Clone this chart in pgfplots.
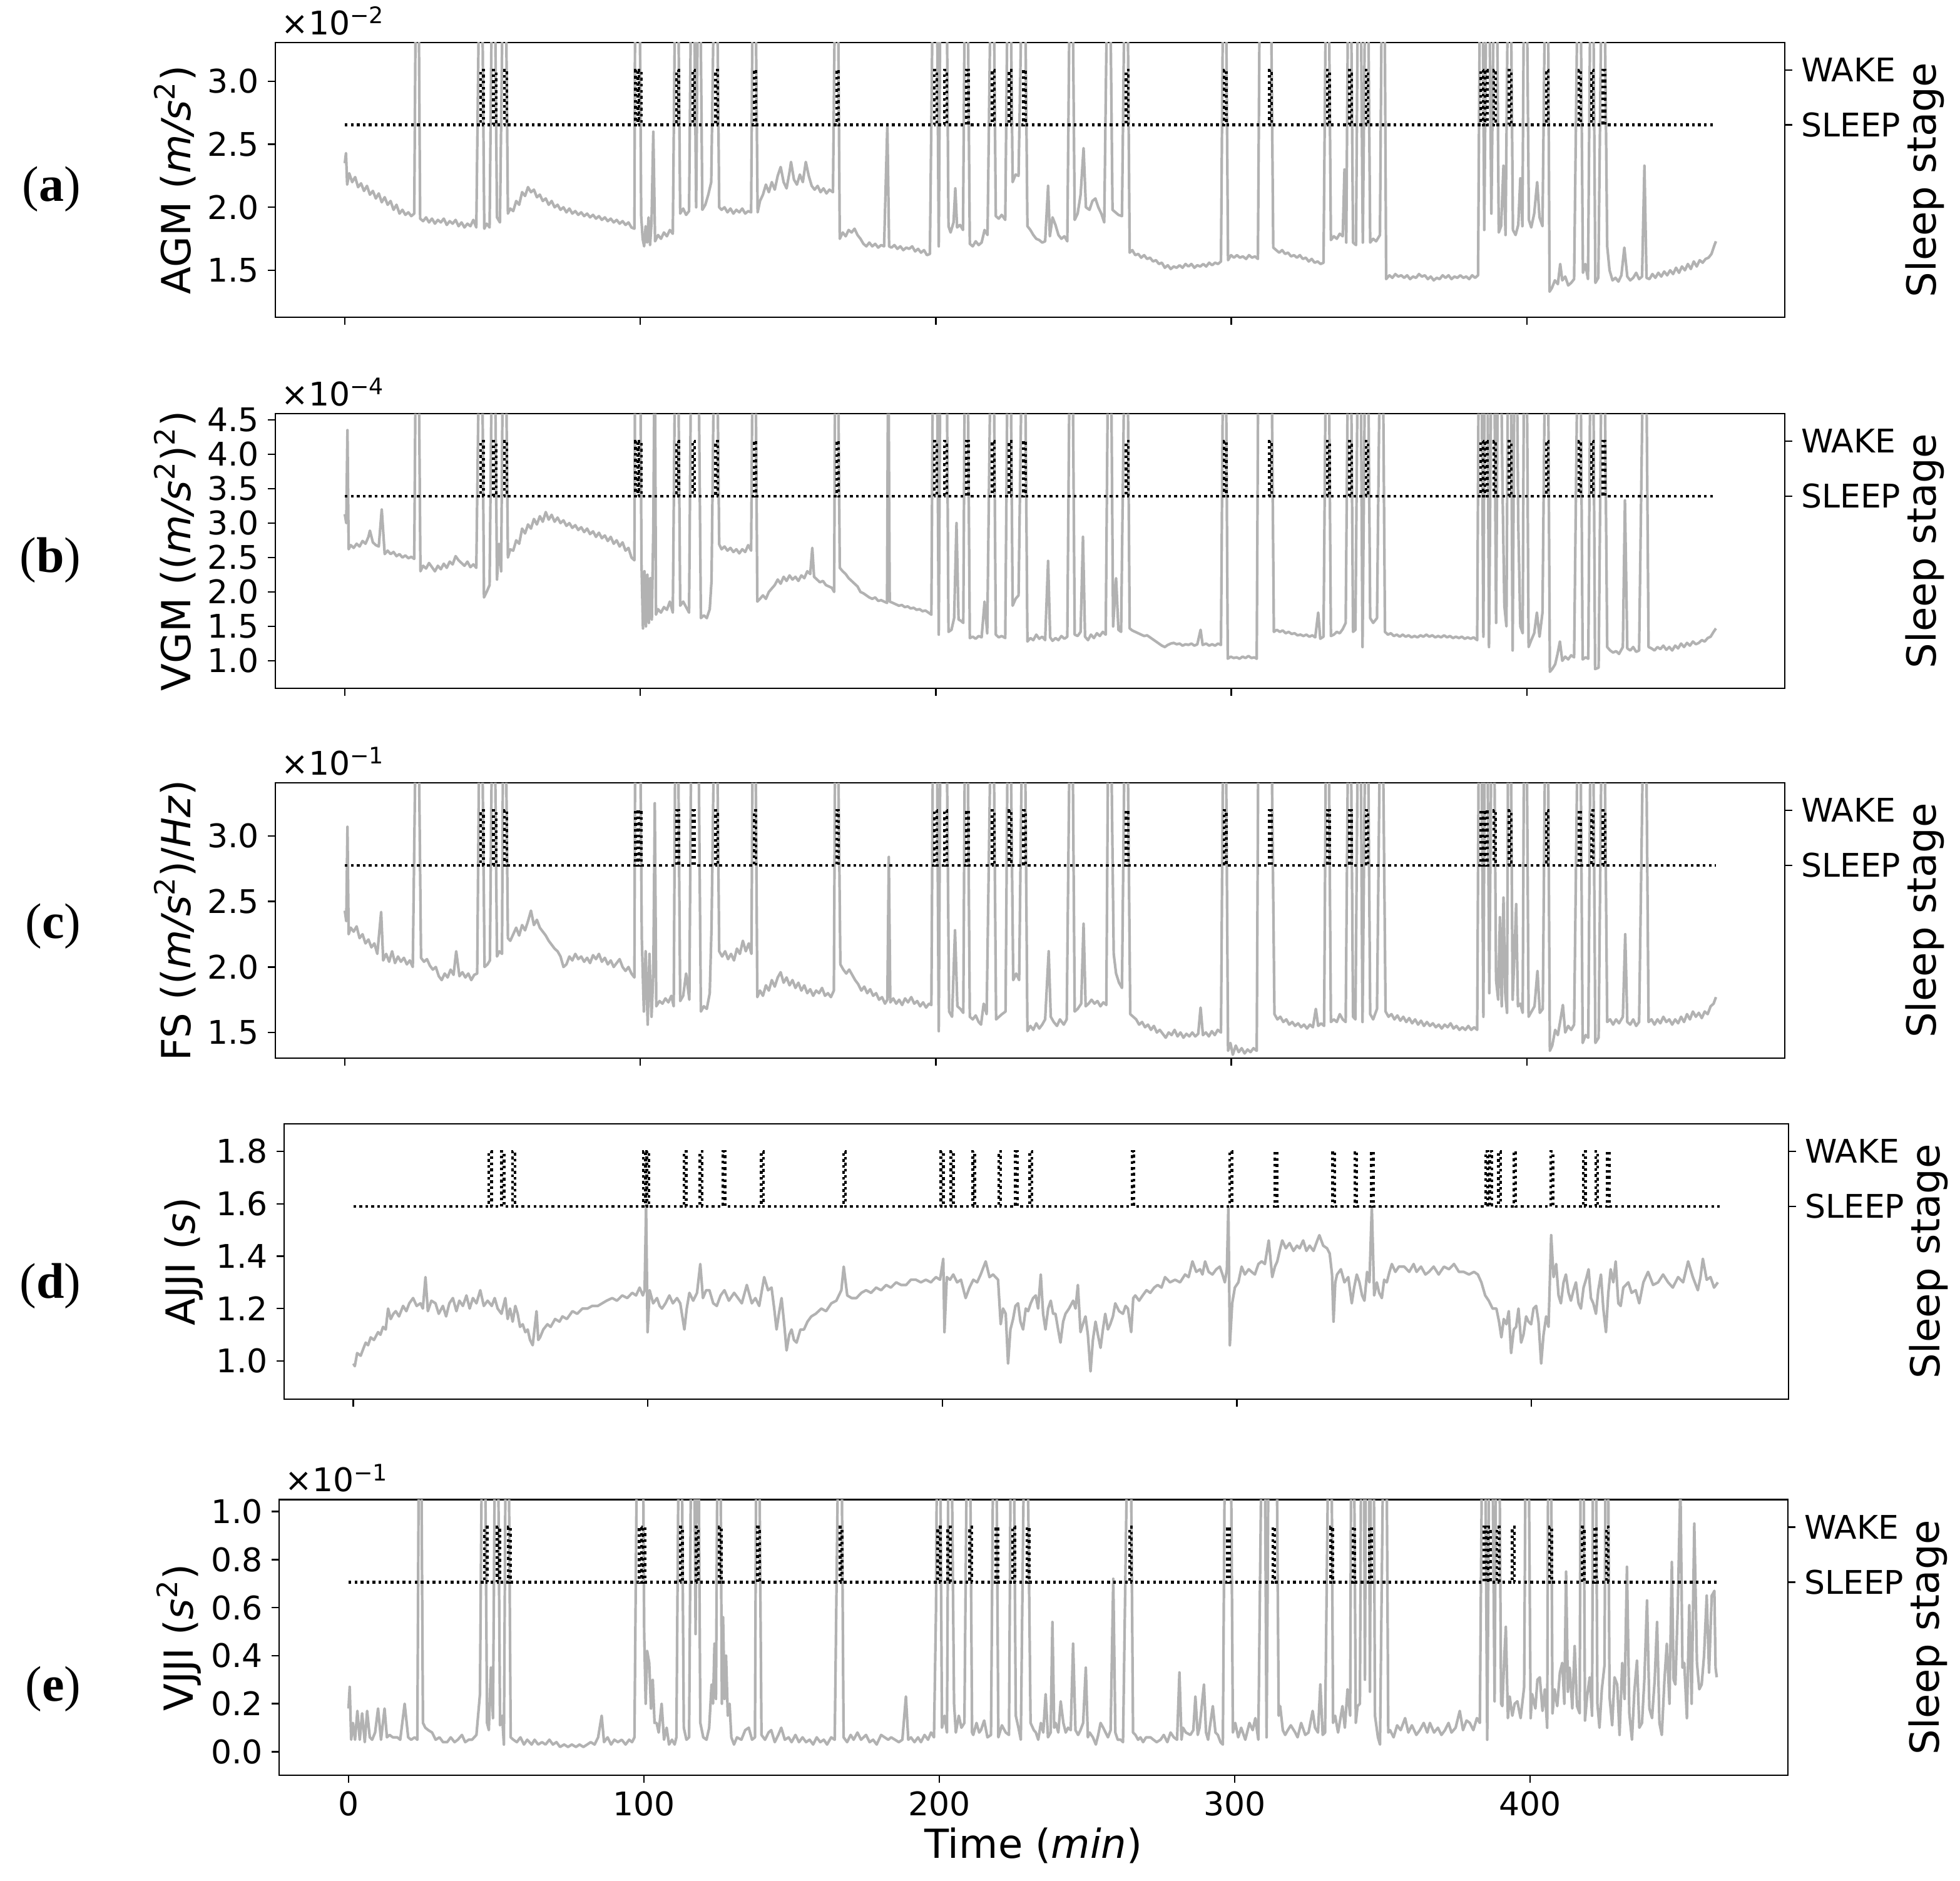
\documentclass[border=0pt]{standalone}
\usepackage{pgfplots}
\pgfplotsset{compat=1.18}
\usepackage{pgfplotstable}
\usepackage{fontspec}
\setmainfont{DejaVu Sans}
\newfontfamily\serifletter{Liberation Serif}
\definecolor{trace}{RGB}{178,178,178}

\pgfplotstableread[row sep=\\]{t s\\
0 0\\
46 0\\46 1\\46.9 1\\46.9 0\\
50.3 0\\50.3 1\\51.2 1\\51.2 0\\
54 0\\54 1\\54.9 1\\54.9 0\\
98.4 0\\98.4 1\\99.2 1\\99.2 0\\
99.6 0\\99.6 1\\100.4 1\\100.4 0\\
112.3 0\\112.3 1\\113 1\\113 0\\
117.7 0\\117.7 1\\118.4 1\\118.4 0\\
125.5 0\\125.5 1\\126.2 1\\126.2 0\\
138.5 0\\138.5 1\\139.2 1\\139.2 0\\
166.4 0\\166.4 1\\167.1 1\\167.1 0\\
199.5 0\\199.5 1\\200.3 1\\200.3 0\\
202.9 0\\202.9 1\\203.7 1\\203.7 0\\
210.3 0\\210.3 1\\211 1\\211 0\\
219.1 0\\219.1 1\\219.8 1\\219.8 0\\
224.8 0\\224.8 1\\225.5 1\\225.5 0\\
229.7 0\\229.7 1\\230.4 1\\230.4 0\\
264.4 0\\264.4 1\\265.1 1\\265.1 0\\
297.5 0\\297.5 1\\298.3 1\\298.3 0\\
312.9 0\\312.9 1\\313.6 1\\313.6 0\\
332.5 0\\332.5 1\\333.2 1\\333.2 0\\
340 0\\340 1\\340.7 1\\340.7 0\\
345.6 0\\345.6 1\\346.3 1\\346.3 0\\
384.4 0\\384.4 1\\385.2 1\\385.2 0\\
385.8 0\\385.8 1\\386.6 1\\386.6 0\\
388.8 0\\388.8 1\\389.5 1\\389.5 0\\
394 0\\394 1\\394.7 1\\394.7 0\\
406.6 0\\406.6 1\\407.3 1\\407.3 0\\
417.6 0\\417.6 1\\418.3 1\\418.3 0\\
421.8 0\\421.8 1\\422.5 1\\422.5 0\\
425.8 0\\425.8 1\\426.5 1\\426.5 0\\
464 0\\
}\stagetab

\pgfplotstableread[row sep=\\]{t v\\
0 2.35\\0.4 2.43\\0.8 2.18\\1.5 2.27\\2.5 2.2\\3.5 2.24\\4.5 2.16\\5.5 2.19\\6.5 2.13\\7.5 2.17\\8.5 2.1\\9.5 2.13\\
10.5 2.07\\11.5 2.11\\12.5 2.04\\13.5 2.08\\14.5 2.02\\15.5 2.05\\16.5 1.98\\17.5 2.02\\18.5 1.95\\19.5 1.98\\20.5 1.94\\
21.5 1.96\\22.5 1.93\\23.5 1.95\\24.1 4\\24.9 4\\25.5 1.91\\26.5 1.89\\27.5 1.92\\28.5 1.88\\29.5 1.91\\30.5 1.87\\31.5 1.9\\
32.5 1.88\\33.5 1.91\\34.5 1.86\\35.5 1.89\\36.5 1.87\\37.5 1.9\\38.5 1.85\\39.5 1.88\\40.5 1.84\\41.5 1.87\\42.5 1.85\\
43.5 1.9\\44.5 1.84\\45.6 4\\46.4 4\\47.2 1.83\\48 1.87\\49 1.84\\49.9 4\\50.7 4\\51.5 1.92\\52.5 1.88\\53.6 4\\54.4 4\\
55.2 1.95\\56 1.99\\57 1.97\\58 2.05\\59 2.02\\60 2.12\\61 2.09\\62 2.16\\63 2.12\\64 2.14\\65 2.08\\66 2.1\\67 2.05\\
68 2.07\\69 2.02\\70 2.05\\71 2.0\\72 2.02\\73 1.98\\74 2.0\\75 1.96\\76 1.99\\77 1.95\\78 1.97\\79 1.94\\80 1.96\\
81 1.93\\82 1.95\\83 1.92\\84 1.94\\85 1.91\\86 1.93\\87 1.9\\88 1.92\\89 1.89\\90 1.91\\91 1.88\\92 1.9\\93 1.87\\
94 1.89\\95 1.86\\96 1.88\\97 1.84\\98 1.83\\98.3 4\\99.7 4\\100.3 1.93\\100.8 1.75\\101.3 1.69\\101.8 1.85\\
102.3 1.72\\102.8 1.92\\103.3 1.7\\103.8 1.88\\104.4 2.6\\105 1.73\\106 1.78\\107 1.75\\108 1.8\\109 1.77\\110 1.82\\
111 1.79\\111.9 4\\112.7 4\\113.5 1.95\\114.5 1.99\\115.5 1.94\\116.5 1.97\\117.3 4\\118.1 4\\118.9 2.0\\119.6 4\\
120.2 4\\121 1.98\\122 2.02\\123 2.1\\124 2.2\\125.1 4\\125.9 4\\126.7 2.0\\127.5 1.98\\128.5 2.0\\129.5 1.96\\
130.5 1.99\\131.5 1.95\\132.5 1.98\\133.5 1.96\\134.5 1.99\\135.5 1.95\\136.5 1.97\\137.5 1.96\\138.1 4\\138.9 4\\
139.7 1.96\\140.5 2.05\\141.5 2.1\\142.5 2.18\\143.5 2.12\\144.5 2.2\\145.5 2.14\\146.5 2.25\\147.5 2.32\\148.5 2.2\\
149.5 2.15\\150.5 2.28\\151 2.36\\152 2.22\\153 2.18\\154 2.26\\155 2.2\\156 2.36\\157 2.25\\158 2.17\\159 2.14\\
160 2.17\\161 2.12\\162 2.15\\163 2.11\\164 2.14\\165.2 2.12\\166 4\\166.8 4\\167.5 1.75\\168.5 1.8\\169.5 1.77\\
170.5 1.82\\171.5 1.8\\172.5 1.83\\173.5 1.78\\174.5 1.75\\175.5 1.71\\176.5 1.69\\177.5 1.72\\178.5 1.69\\179.5 1.71\\
180.5 1.68\\181.5 1.7\\182.5 1.69\\183.6 2.66\\184.2 1.69\\185 1.68\\186 1.7\\187 1.67\\188 1.69\\189 1.66\\190 1.68\\
191 1.67\\192 1.69\\193 1.65\\194 1.67\\195 1.64\\196 1.66\\197 1.62\\198 1.63\\199.1 4\\200.3 4\\201 1.69\\201.6 4\\
203.6 4\\204.3 1.85\\205 1.8\\206 1.88\\206.6 2.15\\207.2 1.84\\208.2 1.86\\209.2 1.82\\209.9 4\\210.7 4\\211.5 1.71\\
212.5 1.69\\213.5 1.73\\214.5 1.7\\215.5 1.72\\216.5 1.82\\217.5 1.78\\218.7 4\\219.5 4\\220.3 1.93\\221.3 1.91\\
222.3 1.94\\223.5 1.9\\224.4 4\\225.2 4\\226 2.2\\227 2.26\\228 2.25\\229.3 4\\230.1 4\\231 1.85\\232 1.82\\233 1.78\\
234 1.75\\235 1.74\\236 1.72\\237 1.73\\238 2.17\\238.6 1.77\\239.5 1.92\\240.5 1.86\\241.5 1.78\\242.5 1.75\\
243.5 1.77\\244.5 1.73\\245.4 4\\246.2 4\\247 1.9\\248 1.95\\249 2.1\\250 2.47\\250.8 2.0\\252 1.98\\253 2.05\\
254 2.07\\255 2.0\\256 1.95\\257 1.88\\258.1 4\\258.9 4\\259.8 1.98\\260.8 1.96\\261.8 1.94\\263 1.93\\264 4\\264.8 4\\
265.6 1.64\\266.5 1.66\\267.5 1.62\\268.5 1.63\\269.5 1.6\\270.5 1.62\\271.5 1.59\\272.5 1.6\\273.5 1.57\\274.5 1.58\\
275.5 1.55\\276.5 1.56\\277.5 1.52\\278.5 1.54\\279.5 1.51\\280.5 1.53\\281.5 1.52\\282.5 1.54\\283.5 1.52\\
284.5 1.55\\285.5 1.53\\286.5 1.55\\287.5 1.52\\288.5 1.54\\289.5 1.53\\290.5 1.55\\291.5 1.53\\292.5 1.56\\
293.5 1.54\\294.5 1.56\\295.5 1.55\\296.5 1.57\\297.3 4\\298.1 4\\298.9 1.58\\299.9 1.62\\300.9 1.6\\301.9 1.62\\
302.9 1.6\\303.9 1.61\\305 1.59\\306 1.62\\307 1.6\\308 1.61\\309 1.59\\309.7 4\\311 4\\312.5 4\\313.3 4\\314.2 1.68\\
315.2 1.66\\316.2 1.64\\317.2 1.66\\318.2 1.63\\319.2 1.64\\320.2 1.61\\321.2 1.62\\322.2 1.6\\323.2 1.62\\324.2 1.59\\
325.2 1.6\\326.2 1.57\\327.2 1.59\\328.2 1.56\\329.2 1.57\\330.2 1.55\\331.2 1.56\\332.1 4\\332.9 4\\333.7 1.74\\
334.7 1.77\\335.7 1.75\\336.7 1.79\\337.7 1.77\\338.3 2.3\\338.9 1.72\\339.6 4\\340.4 4\\341.2 1.72\\342.2 1.7\\
342.9 4\\343.7 4\\344.5 1.72\\345.4 4\\346.2 4\\347 1.72\\348 1.75\\349 1.73\\350.3 1.78\\351 4\\351.8 4\\352.4 1.43\\
353.5 1.46\\354.5 1.44\\355.5 1.47\\356.5 1.45\\357.5 1.46\\358.5 1.44\\359.5 1.46\\360.5 1.43\\361.5 1.45\\
362.5 1.44\\363.5 1.47\\364.5 1.45\\365.5 1.46\\366.5 1.43\\367.5 1.45\\368.5 1.42\\369.5 1.44\\370.5 1.43\\
371.5 1.46\\372.5 1.44\\373.5 1.46\\374.5 1.43\\375.5 1.45\\376.5 1.44\\377.5 1.46\\378.5 1.44\\379.5 1.45\\
380.5 1.43\\381.5 1.46\\382.5 1.44\\383.5 1.46\\384.2 4\\385 4\\385.6 1.82\\386.4 4\\387.2 4\\388 1.95\\389 4\\
389.8 4\\390.5 1.8\\391.3 1.85\\392.1 2.33\\392.8 1.78\\393.7 4\\394.5 4\\395.3 1.82\\396.2 1.78\\397.1 1.86\\
397.8 2.23\\398.5 1.85\\399.1 4\\399.9 4\\400.7 1.9\\401.5 1.84\\402.5 1.95\\403.5 2.2\\404.3 1.92\\405.3 1.85\\
406.3 4\\407.1 4\\407.7 1.33\\408.5 1.36\\409.5 1.42\\410.5 1.39\\411.3 1.55\\412 1.42\\413 1.45\\414 1.38\\415 1.4\\
416 1.43\\417.3 4\\418.1 4\\419 1.48\\419.8 1.55\\420.7 1.43\\421.6 4\\422.4 4\\423.2 1.4\\424.2 1.44\\425.4 4\\
426.2 4\\427.2 1.69\\428 1.5\\429 1.42\\430 1.44\\431 1.41\\432 1.46\\433 1.68\\434 1.45\\435 1.42\\436 1.44\\
437 1.48\\438 1.43\\439 1.45\\439.8 2.33\\440.5 1.44\\441.5 1.43\\442.5 1.47\\443.5 1.44\\444.5 1.48\\445.5 1.45\\
446.5 1.49\\447.5 1.46\\448.5 1.5\\449.5 1.47\\450.5 1.52\\451.5 1.48\\452.5 1.53\\453.5 1.5\\454.5 1.55\\
455.5 1.51\\456.5 1.57\\457.5 1.53\\458.5 1.58\\459.5 1.56\\460.5 1.59\\461.5 1.6\\462.5 1.63\\463.5 1.7\\464 1.73\\
}\taba

\pgfplotstableread[row sep=\\]{t v\\
0 3.13\\0.5 3.0\\0.9 4.35\\1.3 2.62\\2 2.68\\3 2.64\\4 2.7\\5 2.66\\6 2.74\\7 2.7\\8 2.8\\8.5 2.89\\9.5 2.72\\
10.5 2.68\\11.5 2.66\\12.5 3.2\\13.5 2.55\\14.5 2.6\\15.5 2.55\\16.5 2.58\\17.5 2.52\\18.5 2.55\\19.5 2.5\\20.5 2.53\\
21.5 2.49\\22.5 2.51\\23.5 2.48\\24.1 6\\24.9 6\\25.6 2.3\\26.5 2.38\\27.5 2.34\\28.5 2.42\\29.5 2.36\\30.5 2.3\\
31.5 2.38\\32.5 2.33\\33.5 2.41\\34.5 2.35\\35.5 2.44\\36.5 2.4\\37.5 2.52\\38.5 2.46\\39.5 2.42\\40.5 2.38\\
41.5 2.44\\42.5 2.36\\43.5 2.4\\44.5 2.35\\45.6 6\\46.4 6\\47.1 1.92\\48 2.0\\49 2.1\\49.9 6\\50.7 6\\51.5 2.18\\
52.2 2.7\\52.9 2.3\\53.6 6\\54.4 6\\55.2 2.5\\56 2.62\\57 2.6\\58 2.75\\59 2.7\\60 2.92\\61 2.85\\62 2.98\\63 2.92\\
64 3.06\\65 2.98\\66 3.1\\67 3.02\\68 3.16\\69 3.05\\70 3.12\\71 3.02\\72 3.08\\73 3.0\\74 3.04\\75 2.96\\76 3.0\\
77 2.93\\78 2.97\\79 2.9\\80 2.94\\81 2.87\\82 2.92\\83 2.84\\84 2.88\\85 2.8\\86 2.86\\87 2.78\\88 2.82\\89 2.74\\
90 2.8\\91 2.7\\92 2.75\\93 2.66\\94 2.72\\95 2.6\\96 2.64\\97 2.5\\98 2.46\\98.3 6\\99.9 6\\100.4 2.42\\100.9 1.47\\
101.4 2.3\\101.9 1.5\\102.4 2.25\\102.9 1.55\\103.4 2.2\\103.9 1.6\\104.4 2.9\\104.9 6\\105.3 1.67\\106 1.75\\
107 1.7\\108 1.78\\109 1.74\\110 1.86\\111 1.7\\111.9 6\\112.7 6\\113.5 1.8\\114.5 1.86\\115.5 1.78\\116.5 1.7\\
117.3 6\\118.1 6\\118.8 6\\119.6 6\\120.5 1.62\\121.5 1.66\\122.5 1.62\\123.5 1.75\\124.1 2.16\\125.1 6\\125.9 6\\
126.7 2.69\\127.5 2.62\\128.5 2.66\\129.5 2.6\\130.5 2.64\\131.5 2.58\\132.5 2.62\\133.5 2.56\\134.5 2.62\\
135.5 2.58\\136.5 2.68\\137.5 2.6\\138.1 6\\138.9 6\\139.6 1.86\\140.5 1.9\\141.5 1.95\\142.5 1.9\\143.5 2.0\\
144.5 2.05\\145.5 2.1\\146.5 2.18\\147.5 2.12\\148.5 2.22\\149.5 2.16\\150.5 2.24\\151.5 2.18\\152.5 2.22\\
153.5 2.16\\154.5 2.24\\155.5 2.2\\156.5 2.3\\157.5 2.26\\158.2 2.64\\158.8 2.22\\159.8 2.18\\160.8 2.14\\
161.8 2.16\\162.8 2.1\\163.8 2.08\\164.8 2.06\\165.6 2.0\\166 6\\166.8 6\\167.5 2.35\\168.5 2.3\\169.5 2.26\\
170.5 2.2\\171.5 2.16\\172.5 2.12\\173.5 2.08\\174.5 2.0\\175.5 1.98\\176.5 1.95\\177.5 1.92\\178.5 1.9\\
179.5 1.92\\180.5 1.87\\181.5 1.88\\182.5 1.86\\183.5 1.84\\183.9 6\\184.4 1.86\\185.5 1.84\\186.5 1.82\\
187.5 1.8\\188.5 1.81\\189.5 1.78\\190.5 1.79\\191.5 1.76\\192.5 1.77\\193.5 1.74\\194.5 1.75\\195.5 1.72\\
196.5 1.73\\197.5 1.7\\198.5 1.67\\199.1 6\\200.3 6\\201 1.38\\201.6 6\\203.6 6\\204.3 1.42\\205.3 1.45\\206.2 1.62\\
207 3.0\\207.7 1.6\\208.5 1.58\\209.3 1.55\\209.9 6\\210.7 6\\211.5 1.33\\212.5 1.35\\213.5 1.32\\214.5 1.36\\
215.5 1.34\\216.5 1.86\\217.4 1.4\\218.7 6\\219.5 6\\220.3 1.38\\221.3 1.34\\222.3 1.36\\223.5 1.33\\224.4 6\\
225.2 6\\226 1.8\\227 1.9\\228 1.95\\229.3 6\\230.1 6\\231 1.28\\232 1.33\\233 1.3\\234 1.38\\235 1.32\\236 1.35\\
237 1.3\\238 2.45\\238.7 1.34\\239.5 1.29\\240.5 1.33\\241.5 1.3\\242.5 1.36\\243.5 1.32\\244.5 1.35\\245.4 6\\
246.2 6\\247 1.38\\248 1.36\\249 1.42\\249.8 2.8\\250.5 1.35\\251.5 1.3\\252.5 1.38\\253.5 1.33\\254.5 1.4\\
255.5 1.36\\256.5 1.42\\257.5 1.38\\258.4 6\\259.2 6\\260 1.5\\261 2.2\\261.8 1.45\\262.7 1.42\\264 6\\264.8 6\\
265.6 1.47\\266.5 1.44\\267.5 1.42\\268.5 1.4\\269.5 1.38\\270.5 1.36\\271.5 1.37\\272.5 1.34\\273.5 1.31\\
274.5 1.28\\275.5 1.25\\276.5 1.22\\277.5 1.2\\278.5 1.23\\279.5 1.25\\280.5 1.26\\281.5 1.24\\282.5 1.25\\
283.5 1.22\\284.5 1.24\\285.5 1.23\\286.5 1.25\\287.5 1.22\\288.5 1.24\\289.6 1.45\\290.3 1.23\\291.5 1.25\\
292.5 1.22\\293.5 1.24\\294.5 1.22\\295.5 1.25\\296.5 1.23\\297.3 6\\298.1 6\\298.8 1.03\\299.8 1.06\\300.8 1.04\\
301.8 1.05\\302.8 1.03\\303.8 1.06\\304.8 1.04\\305.8 1.07\\306.8 1.04\\307.8 1.05\\308.6 1.03\\309.2 6\\310 6\\
311.2 6\\312 6\\312.7 6\\313.5 6\\314.4 1.42\\315.4 1.45\\316.4 1.42\\317.4 1.44\\318.4 1.4\\319.4 1.42\\320.4 1.39\\
321.4 1.4\\322.4 1.37\\323.4 1.38\\324.4 1.36\\325.4 1.38\\326.4 1.35\\327.4 1.37\\328.4 1.34\\329.4 1.7\\
330.1 1.32\\331.2 1.35\\332.1 6\\332.9 6\\333.7 1.36\\334.7 1.38\\335.7 1.42\\336.7 1.4\\337.7 1.46\\338.7 1.55\\
339.6 6\\340.4 6\\341.2 1.42\\342 1.45\\342.9 6\\343.7 6\\344.4 1.2\\345.4 6\\346.2 6\\347 1.62\\348 1.55\\
349.3 1.62\\350.4 6\\351.2 6\\352 1.42\\353 1.38\\354 1.4\\355 1.36\\356 1.38\\357 1.35\\358 1.38\\359 1.35\\
360 1.37\\361 1.34\\362 1.36\\363 1.34\\364 1.37\\365 1.35\\366 1.38\\367 1.35\\368 1.37\\369 1.34\\370 1.36\\
371 1.34\\372 1.37\\373 1.34\\374 1.36\\375 1.33\\376 1.35\\377 1.33\\378 1.35\\379 1.32\\380 1.34\\381 1.32\\
382 1.34\\383.2 1.3\\383.8 6\\384.6 6\\385.3 1.35\\385.8 6\\386.6 6\\387.2 1.2\\388.1 6\\388.9 6\\389.6 1.55\\
390.3 6\\391.1 6\\391.8 3.43\\392.4 1.8\\393.1 1.5\\393.7 6\\394.5 6\\395.2 1.15\\395.9 6\\396.5 6\\397.1 2.99\\
397.8 1.5\\398.6 1.4\\399.1 6\\399.9 6\\400.6 1.2\\401.5 1.3\\402.5 1.4\\403.4 1.7\\404.3 1.35\\405.3 1.7\\406.3 6\\
407.1 6\\407.8 0.84\\408.6 0.88\\409.6 0.95\\410.4 1.1\\411.2 1.28\\412 1.0\\413 1.06\\414 1.02\\415 1.08\\
416 1.05\\417.3 6\\418.1 6\\418.9 1.02\\419.9 1.05\\420.8 1.03\\421.6 6\\422.4 6\\423.1 0.88\\424.3 0.9\\425.4 6\\
426.2 6\\427.2 1.2\\428.2 1.15\\429.2 1.12\\430.2 1.14\\431.2 1.1\\432.5 1.2\\433.2 3.33\\434 1.18\\435 1.15\\
436 1.2\\437 1.13\\438 1.15\\439.5 6\\440.3 6\\441.2 1.2\\442.2 1.18\\443.2 1.15\\444.2 1.2\\445.2 1.17\\446.2 1.22\\
447.2 1.16\\448.2 1.2\\449.2 1.15\\450.2 1.22\\451.2 1.18\\452.2 1.25\\453.2 1.2\\454.2 1.26\\455.2 1.22\\
456.2 1.28\\457.2 1.24\\458.2 1.26\\459.2 1.3\\460.2 1.28\\461.2 1.33\\462.2 1.35\\463.2 1.42\\464 1.47\\
}\tabb

\pgfplotstableread[row sep=\\]{t v\\
0 2.43\\0.5 2.35\\0.9 3.07\\1.3 2.25\\2 2.3\\3 2.27\\4 2.31\\5 2.22\\6 2.25\\7 2.18\\8 2.21\\9 2.15\\10 2.18\\
11 2.1\\12.3 2.42\\13 2.05\\14 2.1\\15 2.04\\16 2.12\\17 2.03\\18 2.08\\19 2.04\\20 2.07\\21 2.02\\22 2.05\\23 2.0\\
24.1 4\\24.9 4\\25.8 2.07\\26.8 2.04\\27.8 2.06\\28.8 2.01\\29.8 1.98\\30.8 2.0\\31.8 1.93\\32.8 1.9\\33.8 1.95\\
34.8 1.92\\35.8 1.98\\36.8 1.94\\37.7 2.12\\38.8 1.93\\39.8 1.96\\40.8 1.92\\41.8 1.95\\42.8 1.9\\43.8 1.94\\
44.8 1.95\\45.6 4\\46.4 4\\47.3 2.0\\48.3 2.02\\49.1 2.05\\49.9 4\\50.7 4\\51.5 2.08\\52.3 2.12\\53.2 2.1\\53.6 4\\
54.4 4\\55.2 2.22\\56 2.2\\57 2.25\\58 2.3\\59 2.24\\60 2.32\\61 2.28\\62 2.35\\63 2.43\\64 2.32\\65 2.36\\66 2.3\\
67 2.27\\68 2.24\\69 2.2\\70 2.17\\71 2.14\\72 2.12\\73 2.08\\74 2.0\\75 2.02\\76 2.08\\77 2.05\\78 2.1\\79 2.06\\
80 2.08\\81 2.04\\82 2.07\\83 2.03\\84 2.09\\85 2.06\\86 2.1\\87 2.04\\88 2.07\\89 2.02\\90 2.05\\91 2.0\\92 2.03\\
93 2.06\\94 2.0\\95 1.97\\96 2.0\\97 1.95\\98 1.92\\98.3 4\\99.9 4\\100.5 2.22\\101.2 1.66\\101.8 2.12\\102.5 1.56\\
103.1 2.1\\103.8 1.62\\104.4 1.95\\104.9 3.25\\105.4 1.7\\106.5 1.74\\107.5 1.72\\108.5 1.76\\109.5 1.73\\
110.5 1.78\\111.3 1.7\\111.9 4\\112.7 4\\113.5 1.74\\114.5 1.78\\115.5 1.95\\116.6 1.75\\117.3 4\\118.1 4\\
118.8 4\\119.6 4\\120.5 1.66\\121.5 1.7\\122.5 1.68\\123.5 1.8\\124.1 2.3\\125.1 4\\125.9 4\\126.7 2.12\\127.7 2.08\\
128.7 2.12\\129.7 2.06\\130.7 2.1\\131.7 2.05\\132.7 2.14\\133.7 2.1\\134.7 2.2\\135.7 2.12\\136.7 2.18\\
137.6 2.1\\138.1 4\\138.9 4\\139.6 1.77\\140.5 1.82\\141.5 1.78\\142.5 1.86\\143.5 1.82\\144.5 1.9\\145.5 1.85\\
146.5 1.92\\147.5 1.96\\148.5 1.88\\149.5 1.92\\150.5 1.86\\151.5 1.9\\152.5 1.84\\153.5 1.88\\154.5 1.82\\
155.5 1.86\\156.5 1.8\\157.5 1.83\\158.5 1.78\\159.5 1.82\\160.5 1.8\\161.5 1.84\\162.5 1.78\\163.5 1.8\\
164.5 1.77\\165.5 1.82\\166 4\\166.8 4\\167.7 2.02\\168.7 1.98\\169.7 1.95\\170.7 1.98\\171.7 1.94\\172.7 1.9\\
173.7 1.87\\174.8 1.82\\175.8 1.85\\176.8 1.8\\177.8 1.83\\178.8 1.78\\179.8 1.8\\180.8 1.75\\181.8 1.77\\
182.8 1.72\\183.6 1.75\\184.1 2.84\\184.6 1.73\\185.6 1.76\\186.6 1.72\\187.6 1.75\\188.6 1.71\\189.6 1.76\\
190.6 1.73\\191.7 1.77\\192.7 1.72\\193.7 1.74\\194.7 1.7\\195.7 1.73\\196.7 1.69\\197.7 1.72\\198.5 1.71\\
199.1 4\\200.3 4\\201 1.51\\201.6 4\\203.6 4\\204.5 1.66\\205.5 1.62\\206.5 2.28\\207.3 1.7\\208.3 1.68\\
209.3 1.65\\209.9 4\\210.7 4\\211.5 1.62\\212.5 1.6\\213.5 1.63\\214.5 1.58\\215.3 1.56\\216.2 1.72\\217.2 1.64\\
218.7 4\\219.5 4\\220.4 1.6\\221.4 1.62\\222.4 1.64\\223.6 1.66\\224.4 4\\225.2 4\\226.2 1.9\\227.2 1.95\\
228.2 1.9\\229.3 4\\230.1 4\\231 1.51\\232 1.55\\233 1.52\\234 1.57\\235 1.53\\236 1.56\\237 1.6\\238.2 2.12\\
238.9 1.62\\239.9 1.58\\241 1.55\\242 1.6\\243.3 1.56\\244.3 1.6\\245.4 4\\246.2 4\\247 1.66\\248 1.68\\249.2 1.72\\
250 2.33\\250.7 1.7\\251.7 1.72\\252.7 1.75\\253.7 1.72\\254.7 1.74\\255.7 1.7\\256.7 1.73\\257.7 1.71\\258.4 4\\
259.2 4\\260.2 2.1\\261 1.95\\262 1.88\\263 1.84\\264 4\\264.8 4\\265.8 1.64\\266.8 1.62\\267.8 1.6\\268.8 1.56\\
269.8 1.58\\270.8 1.54\\271.8 1.56\\272.8 1.52\\273.8 1.55\\274.8 1.5\\275.8 1.52\\276.8 1.49\\277.8 1.46\\
278.8 1.5\\279.8 1.48\\280.8 1.52\\281.8 1.47\\282.8 1.5\\283.8 1.46\\284.8 1.49\\285.8 1.47\\286.8 1.5\\
287.8 1.47\\288.8 1.49\\289.6 1.69\\290.4 1.48\\291.4 1.5\\292.4 1.47\\293.4 1.51\\294.4 1.48\\295.4 1.52\\
296.5 1.5\\297.3 4\\298.1 4\\298.9 1.36\\299.7 1.42\\300.5 1.33\\301.5 1.4\\302.5 1.35\\303.5 1.38\\304.5 1.34\\
305.5 1.37\\306.5 1.35\\307.5 1.38\\308.6 1.36\\309.2 4\\310 4\\311.2 4\\312 4\\312.7 4\\313.5 4\\314.6 1.64\\
315.6 1.6\\316.6 1.62\\317.6 1.58\\318.6 1.6\\319.6 1.56\\320.6 1.58\\321.6 1.55\\322.6 1.57\\323.6 1.54\\
324.6 1.56\\325.6 1.53\\326.6 1.56\\327.6 1.54\\328.6 1.68\\329.4 1.55\\330.4 1.57\\331.4 1.55\\332.1 4\\332.9 4\\
333.7 1.58\\334.7 1.6\\335.7 1.58\\336.7 1.64\\337.7 1.6\\338.7 1.58\\339.6 4\\340.4 4\\341.2 1.62\\342 1.6\\
342.9 4\\343.7 4\\344.4 1.58\\345.4 4\\346.2 4\\347 1.64\\348 1.6\\349.3 1.68\\350.4 4\\351.2 4\\352.2 1.66\\
353.2 1.62\\354.2 1.64\\355.2 1.6\\356.2 1.63\\357.2 1.59\\358.2 1.62\\359.2 1.58\\360.2 1.61\\361.2 1.57\\
362.2 1.6\\363.2 1.56\\364.2 1.59\\365.2 1.55\\366.2 1.58\\367.2 1.55\\368.2 1.57\\369.2 1.54\\370.2 1.56\\
371.2 1.53\\372.2 1.56\\373.2 1.54\\374.2 1.57\\375.2 1.53\\376.2 1.55\\377.2 1.52\\378.2 1.54\\379.2 1.52\\
380.2 1.55\\381.2 1.52\\382.2 1.54\\383.2 1.52\\383.8 4\\384.6 4\\385.3 1.62\\385.8 4\\386.6 4\\387.3 1.8\\
388.1 4\\388.9 4\\389.6 1.9\\390.3 1.75\\390.9 2.38\\391.5 1.7\\392.1 2.53\\392.7 1.8\\393.3 1.65\\393.7 4\\
394.5 4\\395.2 1.75\\395.8 2.1\\396.4 2.48\\397 1.7\\397.8 1.72\\398.6 1.65\\399.1 4\\399.9 4\\400.6 1.62\\
401.6 1.66\\402.6 1.7\\403.6 1.97\\404.4 1.65\\405.4 1.68\\406.3 4\\407.1 4\\407.8 1.36\\408.6 1.4\\409.6 1.52\\
410.5 1.48\\411.4 1.6\\412.2 1.71\\413 1.5\\414 1.55\\415 1.52\\416 1.56\\417.3 4\\418.1 4\\418.9 1.42\\
419.9 1.48\\420.8 1.46\\421.6 4\\422.4 4\\423.2 1.42\\424.3 1.46\\425.4 4\\426.2 4\\427.2 1.58\\428.2 1.6\\
429.2 1.56\\430.2 1.6\\431.2 1.57\\432.5 1.62\\433.3 2.25\\434 1.58\\435 1.56\\436 1.6\\437 1.55\\438 1.58\\
439.5 4\\440.3 4\\441.2 1.58\\442.2 1.6\\443.2 1.56\\444.2 1.6\\445.2 1.57\\446.2 1.62\\447.2 1.58\\448.2 1.6\\
449.2 1.56\\450.2 1.6\\451.2 1.57\\452.2 1.62\\453.2 1.58\\454.2 1.64\\455.2 1.6\\456.2 1.66\\457.2 1.62\\
458.2 1.65\\459.2 1.61\\460.2 1.66\\461.2 1.64\\462.2 1.7\\463.2 1.72\\464 1.77\\
}\tabc

\pgfplotstableread[row sep=\\]{t v\\
0 0.99\\0.5 0.98\\1.3 1.03\\2.5 1.02\\3.5 1.05\\4.2 1.07\\5 1.06\\5.9 1.09\\7 1.08\\8.4 1.11\\9.2 1.1\\10.1 1.13\\
11 1.12\\11.8 1.2\\12.7 1.16\\13.6 1.18\\14.4 1.19\\15.5 1.17\\16.9 1.21\\18 1.19\\19 1.22\\20.3 1.24\\21.5 1.21\\
22.8 1.22\\23.6 1.2\\24.5 1.32\\25.3 1.19\\26.5 1.23\\27.9 1.22\\29 1.18\\30.4 1.21\\31.5 1.17\\32.6 1.22\\
33.8 1.24\\35 1.19\\36 1.23\\37.2 1.21\\38.4 1.25\\39.5 1.2\\40.6 1.24\\41.8 1.22\\43.1 1.27\\44.3 1.21\\45.6 1.23\\
47 1.21\\48 1.24\\49 1.2\\50.3 1.18\\51.6 1.24\\52.4 1.16\\53.2 1.2\\54.1 1.15\\55 1.21\\55.8 1.18\\56.6 1.13\\
57.5 1.14\\58.4 1.11\\59.2 1.12\\60 1.08\\60.9 1.06\\61.5 1.12\\62.2 1.19\\62.8 1.08\\63.4 1.09\\64.5 1.12\\
65.9 1.14\\67 1.13\\68.5 1.16\\70 1.15\\71 1.17\\72.5 1.16\\74.4 1.19\\76 1.18\\77.8 1.2\\79.5 1.2\\81.1 1.21\\
83 1.21\\84.5 1.22\\86 1.23\\87.9 1.24\\89.5 1.23\\91.3 1.25\\93 1.24\\94.7 1.26\\96 1.25\\97.2 1.28\\98.3 1.25\\
98.9 1.27\\99.4 1.59\\99.9 1.11\\100.6 1.27\\101.8 1.22\\103.1 1.24\\104 1.21\\104.8 1.2\\106 1.22\\107.3 1.25\\
108.5 1.22\\109.9 1.24\\111 1.22\\112.4 1.12\\113.2 1.2\\114.1 1.26\\115.4 1.23\\116.7 1.26\\117.8 1.37\\
118.7 1.24\\119.8 1.27\\120.9 1.27\\122.2 1.22\\123.4 1.21\\124.7 1.25\\126 1.27\\127.5 1.23\\129.3 1.26\\
130.6 1.24\\131.9 1.22\\133.6 1.29\\135.3 1.22\\136.5 1.24\\137.8 1.21\\139.5 1.32\\140.8 1.27\\142 1.28\\
142.9 1.2\\143.7 1.12\\144.5 1.18\\145.4 1.24\\146.3 1.14\\147.1 1.04\\148 1.1\\148.8 1.12\\149.6 1.08\\
150.5 1.07\\151.8 1.12\\153 1.12\\154.2 1.15\\155.5 1.17\\157 1.18\\158.9 1.2\\160.5 1.19\\162.3 1.22\\164 1.23\\
165.7 1.27\\166.5 1.36\\167.7 1.25\\169.2 1.24\\170.8 1.24\\172.5 1.26\\174.1 1.27\\175.8 1.26\\177.5 1.28\\
179.2 1.27\\180.9 1.29\\182.5 1.28\\184.3 1.3\\186 1.29\\187.7 1.29\\189.3 1.31\\191 1.31\\192.7 1.3\\194.4 1.31\\
196.1 1.3\\197.8 1.32\\199.2 1.31\\200.3 1.39\\200.7 1.11\\201.5 1.32\\202.6 1.31\\203.7 1.33\\205 1.3\\
206.3 1.31\\207.9 1.24\\209.2 1.28\\210.5 1.31\\211.8 1.3\\213 1.33\\214.7 1.38\\216 1.32\\217.2 1.33\\218.9 1.31\\
219.8 1.14\\220.6 1.2\\221.5 1.18\\222.3 0.99\\223.1 1.12\\224 1.16\\224.8 1.21\\225.7 1.22\\226.5 1.15\\
227.4 1.12\\228.3 1.2\\229.1 1.19\\230 1.22\\230.8 1.24\\231.7 1.25\\232.5 1.2\\233.4 1.33\\234.2 1.18\\235 1.12\\
235.9 1.2\\236.8 1.23\\237.6 1.18\\238.4 1.18\\239.3 1.12\\240.1 1.07\\241 1.15\\241.8 1.18\\243 1.2\\244.4 1.23\\
245.2 1.2\\246 1.29\\246.9 1.11\\247.7 1.14\\248.6 1.17\\249.4 1.1\\250.3 0.96\\251.1 1.08\\252 1.15\\252.8 1.1\\
253.7 1.05\\254.5 1.12\\255.3 1.18\\256.2 1.12\\257 1.14\\257.9 1.17\\258.7 1.22\\260 1.19\\261.3 1.18\\
262.2 1.21\\263 1.2\\264.1 1.11\\264.8 1.24\\265.5 1.25\\266.8 1.23\\268 1.25\\269.3 1.27\\270.6 1.26\\271.9 1.28\\
273.1 1.29\\274.4 1.28\\275.6 1.32\\277.3 1.3\\279 1.31\\280.7 1.3\\282.4 1.33\\283.6 1.32\\284.9 1.38\\286.2 1.34\\
287.5 1.35\\288.3 1.33\\289.2 1.38\\290.4 1.34\\291.7 1.33\\293 1.35\\294.2 1.36\\295.1 1.33\\295.9 1.3\\
296.6 1.35\\297.1 1.59\\297.6 1.06\\298.4 1.22\\299.3 1.28\\300.5 1.3\\301.6 1.36\\302.7 1.33\\304 1.35\\305 1.34\\
306.1 1.33\\307.3 1.37\\308.4 1.38\\309.5 1.37\\310.8 1.46\\312 1.32\\312.9 1.36\\313.7 1.38\\314.5 1.42\\
315.4 1.46\\316.6 1.43\\317.9 1.45\\319.2 1.42\\320.4 1.44\\321.3 1.43\\322.5 1.46\\323.6 1.42\\324.7 1.44\\
326 1.42\\327.3 1.46\\328 1.48\\329.3 1.44\\330.6 1.43\\331.5 1.41\\332.3 1.33\\332.8 1.15\\333.4 1.3\\334 1.33\\
335.3 1.35\\336.5 1.3\\337.8 1.32\\339 1.22\\339.8 1.28\\340.7 1.33\\341.6 1.3\\342.5 1.25\\343.3 1.23\\344.2 1.34\\
345 1.3\\345.8 1.59\\346.6 1.25\\347.5 1.3\\348.3 1.26\\349.2 1.24\\350 1.31\\350.9 1.3\\351.8 1.34\\352.6 1.37\\
353.8 1.34\\355 1.36\\356.8 1.36\\358.5 1.34\\360 1.37\\361 1.34\\362.5 1.36\\364 1.33\\365.2 1.34\\366.8 1.36\\
368.5 1.33\\370.3 1.36\\372 1.35\\373.7 1.37\\375.4 1.34\\377 1.34\\378.8 1.33\\380.5 1.34\\381.8 1.33\\383 1.3\\
384.3 1.25\\385.5 1.23\\386.8 1.2\\388.1 1.2\\389 1.15\\389.8 1.09\\390.6 1.16\\391.5 1.14\\392.3 1.19\\393.1 1.03\\
394 1.12\\394.8 1.13\\395.6 1.2\\396.5 1.07\\397.3 1.1\\398.2 1.17\\399 1.15\\399.9 1.14\\400.7 1.2\\401.6 1.21\\
402.4 1.15\\403.3 0.99\\404.1 1.1\\405 1.17\\405.8 1.13\\406.7 1.48\\407.5 1.32\\408.4 1.37\\409.2 1.25\\410 1.22\\
410.9 1.3\\411.7 1.33\\412.6 1.26\\413.4 1.23\\414.3 1.27\\415.1 1.3\\416 1.22\\416.8 1.2\\417.7 1.28\\418.5 1.31\\
419.4 1.35\\420.2 1.24\\421 1.22\\421.9 1.18\\422.7 1.27\\423.6 1.33\\424.4 1.2\\425.3 1.11\\426.1 1.26\\
426.9 1.35\\427.8 1.3\\428.6 1.38\\429.5 1.22\\430.3 1.21\\431.2 1.28\\432.9 1.3\\434 1.26\\435.4 1.27\\436.6 1.22\\
438 1.3\\439.6 1.34\\441.3 1.29\\443 1.3\\444.7 1.33\\446.4 1.3\\448 1.28\\449.8 1.32\\451.5 1.3\\453.2 1.38\\
454.8 1.32\\456.5 1.27\\457.4 1.32\\458.2 1.39\\459.5 1.31\\460.8 1.32\\462 1.28\\463.3 1.3\\
}\tabd

\pgfplotstableread[row sep=\\]{t v\\
0 0.18\\0.4 0.27\\0.9 0.05\\1.5 0.12\\2.2 0.05\\3 0.17\\3.8 0.05\\4.6 0.16\\5.5 0.04\\6.3 0.17\\7.2 0.06\\8 0.05\\
9 0.08\\10 0.18\\11 0.05\\12.2 0.18\\13 0.06\\13.9 0.07\\15 0.06\\16.5 0.06\\17.5 0.05\\19 0.2\\20.2 0.06\\
21.2 0.05\\22.4 0.06\\23.3 0.05\\23.9 1.5\\24.5 1.5\\25.2 0.12\\26 0.1\\27 0.09\\28.3 0.08\\29.5 0.05\\30.8 0.06\\
32 0.04\\33.4 0.04\\34.6 0.06\\35.9 0.04\\37 0.05\\38.4 0.07\\39.5 0.04\\40.7 0.05\\41.8 0.05\\43.3 0.07\\
44.5 0.24\\45.3 1.5\\46.1 1.5\\46.9 0.12\\47.5 0.09\\48.2 0.35\\48.9 0.14\\49.7 1.5\\50.5 1.5\\51.3 0.11\\52 0.15\\
52.6 0.03\\53.3 1.5\\54.1 1.5\\54.9 0.06\\55.8 0.05\\57 0.04\\58.2 0.06\\59.4 0.03\\60.5 0.05\\62 0.03\\63 0.05\\
64.2 0.03\\65.5 0.04\\66.7 0.03\\68 0.05\\69.2 0.03\\70.4 0.04\\71.6 0.02\\73 0.03\\74.3 0.02\\75.6 0.03\\77 0.02\\
78.2 0.03\\79.5 0.02\\80.8 0.03\\82 0.04\\83.3 0.03\\84.5 0.06\\85.7 0.15\\86.5 0.04\\87.7 0.06\\88.9 0.03\\90 0.05\\
91.2 0.04\\92.5 0.05\\93.8 0.03\\95 0.05\\96 0.04\\96.8 0.06\\97.8 1.5\\99.6 1.5\\100.1 0.49\\100.6 0.2\\101.1 0.42\\
101.8 0.37\\102.4 0.18\\103 0.3\\103.6 0.12\\104.3 0.12\\105 0.08\\106 0.2\\106.8 0.05\\107.7 0.1\\108.5 0.03\\
109.5 0.05\\110.4 0.03\\111 0.06\\111.9 1.5\\112.7 1.5\\113.5 0.1\\114.4 0.05\\115.3 0.06\\116.1 1.5\\116.9 1.5\\
117.5 0.49\\117.9 1.5\\118.4 1.5\\119.1 0.12\\120.1 0.06\\121.2 0.05\\122.1 0.1\\122.9 0.28\\123.4 0.2\\123.9 0.45\\
124.4 0.22\\125 1.5\\125.8 1.5\\126.4 0.2\\126.8 0.56\\127.3 0.22\\127.8 0.4\\128.4 0.15\\129 0.2\\129.6 0.06\\
130.5 0.03\\131.5 0.06\\133 0.05\\134.3 0.09\\135.5 0.1\\136.6 0.05\\137.6 0.06\\138.1 1.5\\138.9 1.5\\139.8 0.07\\
141 0.05\\142.2 0.08\\143.1 0.09\\144.3 0.04\\145.5 0.07\\146.5 0.1\\147.7 0.05\\149 0.06\\150 0.04\\151.3 0.07\\
152.5 0.04\\153.7 0.06\\154.9 0.04\\156.1 0.05\\157.3 0.03\\158.5 0.06\\159.7 0.04\\160.9 0.05\\162 0.03\\
163.4 0.06\\164.6 0.05\\166 1.5\\166.8 1.5\\167.6 0.06\\168.8 0.04\\170 0.07\\171 0.05\\172.3 0.08\\173.5 0.05\\
175.2 0.07\\176.4 0.04\\177.6 0.05\\178.8 0.03\\180.3 0.07\\181.5 0.06\\182.7 0.05\\183.7 0.06\\185 0.05\\
186.3 0.04\\187.5 0.05\\188.7 0.23\\189.5 0.05\\190.4 0.06\\191.6 0.04\\192.8 0.06\\193.8 0.04\\195 0.07\\
196.2 0.05\\197.2 0.08\\198.2 0.06\\198.9 0.6\\199.3 1.5\\200.2 1.5\\200.9 0.1\\201.8 0.15\\202.6 0.08\\203.2 1.5\\
204 1.5\\205 0.2\\205.6 0.08\\206.6 0.15\\207.5 0.1\\208.5 0.12\\209.5 1.5\\210.3 1.5\\211.1 0.08\\211.5 0.07\\
212.6 0.12\\213.5 0.08\\214.1 0.09\\215.2 0.13\\216.3 0.06\\217.5 0.07\\218.4 1.5\\219.2 1.5\\220 0.06\\221.2 0.11\\
222.5 0.08\\223.6 0.07\\224.3 1.5\\225.1 1.5\\225.9 0.15\\226.8 0.1\\227.6 0.05\\228.9 1.5\\229.7 1.5\\230.9 0.12\\
232 0.09\\232.7 0.08\\233.5 0.05\\234.4 0.12\\235.2 0.08\\236 0.24\\236.8 0.06\\237.7 0.08\\238.3 0.54\\238.9 0.1\\
239.4 0.12\\240.3 0.08\\241.1 0.21\\242 0.12\\242.8 0.08\\243.6 0.1\\244.5 0.09\\245.3 0.45\\246.1 0.09\\247 0.07\\
247.8 0.09\\248.7 0.12\\249.6 0.35\\250.3 0.06\\250.9 0.08\\252 0.06\\253 0.03\\253.8 0.07\\254.6 0.12\\255.5 0.1\\
256.3 0.08\\257.1 0.06\\258 0.09\\258.9 0.72\\259.6 0.08\\260.4 0.05\\261.4 0.05\\262.2 0.04\\263.9 1.5\\264.7 1.5\\
265.6 0.08\\266.4 0.07\\267.3 0.05\\268.1 0.06\\269 0.04\\270 0.06\\271.5 0.06\\272.5 0.05\\273.6 0.04\\274.9 0.05\\
276 0.07\\277.2 0.04\\278.3 0.08\\279.4 0.06\\280.5 0.05\\281.3 0.33\\282 0.05\\282.5 0.1\\283.5 0.08\\285 0.07\\
286 0.09\\286.7 0.23\\287.5 0.07\\288.1 0.1\\289.6 0.28\\290.3 0.08\\291 0.05\\292.6 0.19\\293.5 0.08\\294.3 0.07\\
295.2 0.04\\296 0.03\\296.8 1.5\\298.6 1.5\\299.4 0.08\\300.2 0.12\\301.2 0.06\\302.2 0.1\\303.6 0.05\\305 0.12\\
306.1 0.09\\307 0.14\\308 0.05\\309.3 1.5\\310.1 1.5\\310.8 0.06\\311.6 1.5\\312.4 1.5\\313.3 1.5\\314.1 1.5\\
314.9 0.15\\315.4 0.19\\316.3 0.09\\317.1 0.07\\318 0.09\\319 0.11\\320.5 0.08\\321.3 0.06\\322.5 0.12\\
323.9 0.07\\325 0.08\\326.4 0.17\\327.2 0.1\\328.2 0.08\\329 0.28\\329.8 0.07\\330.6 0.08\\331.9 1.5\\332.7 1.5\\
333.3 0.12\\334 0.15\\335 0.08\\336.5 0.19\\337.3 0.1\\338.2 0.26\\339.1 0.15\\339.5 1.5\\340.3 1.5\\341 0.12\\
341.6 0.19\\342.4 0.2\\342.9 1.5\\343.7 1.5\\344.1 0.3\\344.5 1.5\\345.4 1.5\\345.8 0.25\\346.2 1.5\\347 1.5\\
347.5 0.15\\348.5 0.06\\349.2 0.03\\350.5 1.5\\351.3 1.5\\352 0.08\\352.6 0.09\\353.8 0.06\\355 0.11\\356.2 0.09\\
357.7 0.14\\358.8 0.08\\360 0.11\\361.5 0.07\\362.7 0.09\\364 0.12\\365.2 0.08\\366.1 0.12\\367.5 0.08\\368.8 0.1\\
370 0.07\\371.2 0.09\\372.4 0.12\\373.4 0.08\\374.8 0.1\\376.2 0.17\\377.3 0.09\\378.5 0.13\\379.6 0.12\\
380.8 0.09\\382 0.14\\383 0.12\\383.9 1.5\\384.7 1.5\\385.5 0.05\\386.3 1.5\\387.1 1.5\\388 0.21\\388.6 1.5\\
389.5 1.5\\390.2 0.2\\390.6 0.19\\391.3 0.4\\391.8 0.52\\392.5 0.14\\393.1 0.23\\394 0.15\\394.8 0.2\\395.7 0.21\\
396.8 0.14\\398 0.27\\398.6 1.5\\399.4 1.5\\400.2 0.14\\400.7 0.24\\401.8 0.18\\402.5 0.3\\403.3 0.31\\404.2 0.17\\
405 0.26\\405.8 0.1\\406.2 1.5\\407 1.5\\407.6 0.16\\408.3 0.26\\409.2 0.19\\410.1 0.33\\410.9 0.37\\411.6 0.2\\
412.2 0.75\\412.8 0.25\\413.4 0.35\\414.3 0.18\\415.1 0.44\\415.9 0.19\\416.8 0.16\\417.2 1.5\\418 1.5\\418.6 0.13\\
419.3 0.23\\420.2 0.31\\421 0.15\\421.4 1.5\\422.2 1.5\\422.8 0.2\\423.5 0.1\\424.3 0.26\\425.2 0.36\\425.7 1.5\\
426.3 1.5\\426.9 0.23\\427.8 0.11\\428.6 0.31\\429.5 0.28\\430.3 0.07\\431.2 0.37\\432 0.22\\432.8 0.77\\433.6 0.16\\
434.5 0.05\\435.3 0.25\\436.2 0.38\\437 0.1\\437.9 0.12\\438.7 0.3\\439.6 0.63\\440.4 0.18\\441.3 0.14\\442.2 0.3\\
443 0.54\\443.8 0.12\\444.6 0.07\\445.5 0.3\\446.3 0.45\\447.2 0.2\\448 0.79\\448.6 0.3\\449.2 0.28\\450 0.6\\
450.9 1.12\\451.6 0.35\\452.2 0.37\\453.1 0.14\\453.9 0.61\\454.7 0.2\\455.6 0.95\\456.5 0.37\\457.3 0.26\\
458.1 0.28\\458.9 0.4\\459.8 0.65\\460.6 0.33\\461.5 0.65\\462 0.66\\462.4 0.67\\462.8 0.35\\463.2 0.31\\
}\tabe

\pgfplotsset{
  basepanel/.style={scale only axis, width=603pt, height=110pt, xmin=-23.5, xmax=487.3,
    tick align=outside, major tick length=3pt, tick style={line width=0.6pt, black},
    axis line style={line width=0.7pt, black},
    tick label style={font=\fontsize{13}{15}\selectfont},
    label style={font=\fontsize{16}{19}\selectfont},
    /pgf/number format/assume math mode=true, scaled y ticks=false, no markers},
  panelL/.style={basepanel, tick pos=left, xtick={0,100,200,300,400}, xticklabels={},
    yticklabel style={/pgf/number format/fixed, /pgf/number format/fixed zerofill, /pgf/number format/precision=1},
    ylabel style={at={(axis description cs:0,0.5)}, yshift=40pt, anchor=center}},
  panelR/.style={basepanel, axis y line*=right, axis x line=none, ymin=-3.5, ymax=1.5,
    ytick={0,1}, yticklabels={SLEEP,WAKE}, ylabel={Sleep stage},
    ylabel style={at={(axis description cs:1,0.5)}, yshift=-56pt, anchor=center}},
  trace/.style={color=trace, line width=1.05pt, line join=round},
  stage/.style={black, line width=1.1pt, dash pattern=on 1.1pt off 1.3pt},
}

\begin{document}
\begin{tikzpicture}
\path[use as bounding box] (0,0) rectangle (783pt,-751.25pt);

% ---------- (a)
\begin{axis}[panelL, name=A, at={(110pt,-17pt)}, anchor=north west, height=109.75pt,
  ymin=1.127, ymax=3.308, ytick={1.5,2.0,2.5,3.0}, ylabel={AGM (\textit{m/s}\textsuperscript{2})}]
\addplot[trace] table[x=t,y=v]{\taba};
\end{axis}
\begin{axis}[panelR, at={(110pt,-17pt)}, anchor=north west, height=109.75pt]
\addplot[stage] table[x=t,y=s]{\stagetab};
\end{axis}

% ---------- (b)
\begin{axis}[panelL, name=B, at={(110pt,-165.25pt)}, anchor=north west, height=109.75pt,
  ymin=0.6, ymax=4.59, ytick={1.0,1.5,2.0,2.5,3.0,3.5,4.0,4.5}, ylabel={VGM ((\textit{m/s}\textsuperscript{2})\textsuperscript{2})}]
\addplot[trace] table[x=t,y=v]{\tabb};
\end{axis}
\begin{axis}[panelR, at={(110pt,-165.25pt)}, anchor=north west, height=109.75pt]
\addplot[stage] table[x=t,y=s]{\stagetab};
\end{axis}

% ---------- (c)
\begin{axis}[panelL, name=C, at={(110pt,-312.75pt)}, anchor=north west, height=110pt,
  ymin=1.304, ymax=3.406, ytick={1.5,2.0,2.5,3.0}, ylabel={FS ((\textit{m/s}\textsuperscript{2})/\textit{Hz})}]
\addplot[trace] table[x=t,y=v]{\tabc};
\end{axis}
\begin{axis}[panelR, at={(110pt,-312.75pt)}, anchor=north west, height=110pt]
\addplot[stage] table[x=t,y=s]{\stagetab};
\end{axis}

% ---------- (d)
\begin{axis}[panelL, name=D, at={(113.5pt,-449pt)}, anchor=north west, width=601pt, height=110pt,
  ymin=0.854, ymax=1.905, ytick={1.0,1.2,1.4,1.6,1.8}, ylabel={AJJI (\textit{s})}]
\addplot[trace] table[x=t,y=v]{\tabd};
\end{axis}
\begin{axis}[panelR, at={(113.5pt,-449pt)}, anchor=north west, width=601pt, height=110pt]
\addplot[stage] table[x=t,y=s]{\stagetab};
\end{axis}

% ---------- (e)
\begin{axis}[panelL, name=E, at={(111.5pt,-599.1pt)}, anchor=north west, width=602.75pt, height=110.15pt,
  xticklabels={0,100,200,300,400}, xlabel={Time (\textit{min})},
  xlabel style={at={(axis description cs:0.5,0)}, yshift=-28pt, anchor=center},
  ymin=-0.098, ymax=1.05, ytick={0.0,0.2,0.4,0.6,0.8,1.0}, ylabel={VJJI (\textit{s}\textsuperscript{2})}]
\addplot[trace] table[x=t,y=v]{\tabe};
\end{axis}
\begin{axis}[panelR, at={(111.5pt,-599.1pt)}, anchor=north west, width=602.75pt, height=110.15pt]
\addplot[stage] table[x=t,y=s]{\stagetab};
\end{axis}

% multipliers
\foreach \ax/\ex in {A/2,B/4,C/1,E/1}{
  \node[anchor=base west, inner sep=0pt, font=\fontsize{13}{15}\selectfont] at ([xshift=2.2pt,yshift=3.2pt]\ax.north west) {×10\textsuperscript{−\ex}};
}

% panel letters
\foreach \l/\y in {a/-75.5,b/-223.75,c/-370,d/-513.75,e/-674.75}{
  \node[anchor=east, inner sep=0pt, font=\serifletter\fontsize{20}{24}\selectfont] at (32.5pt,\y pt) {(\textbf{\l})};
}
\end{tikzpicture}
\end{document}
